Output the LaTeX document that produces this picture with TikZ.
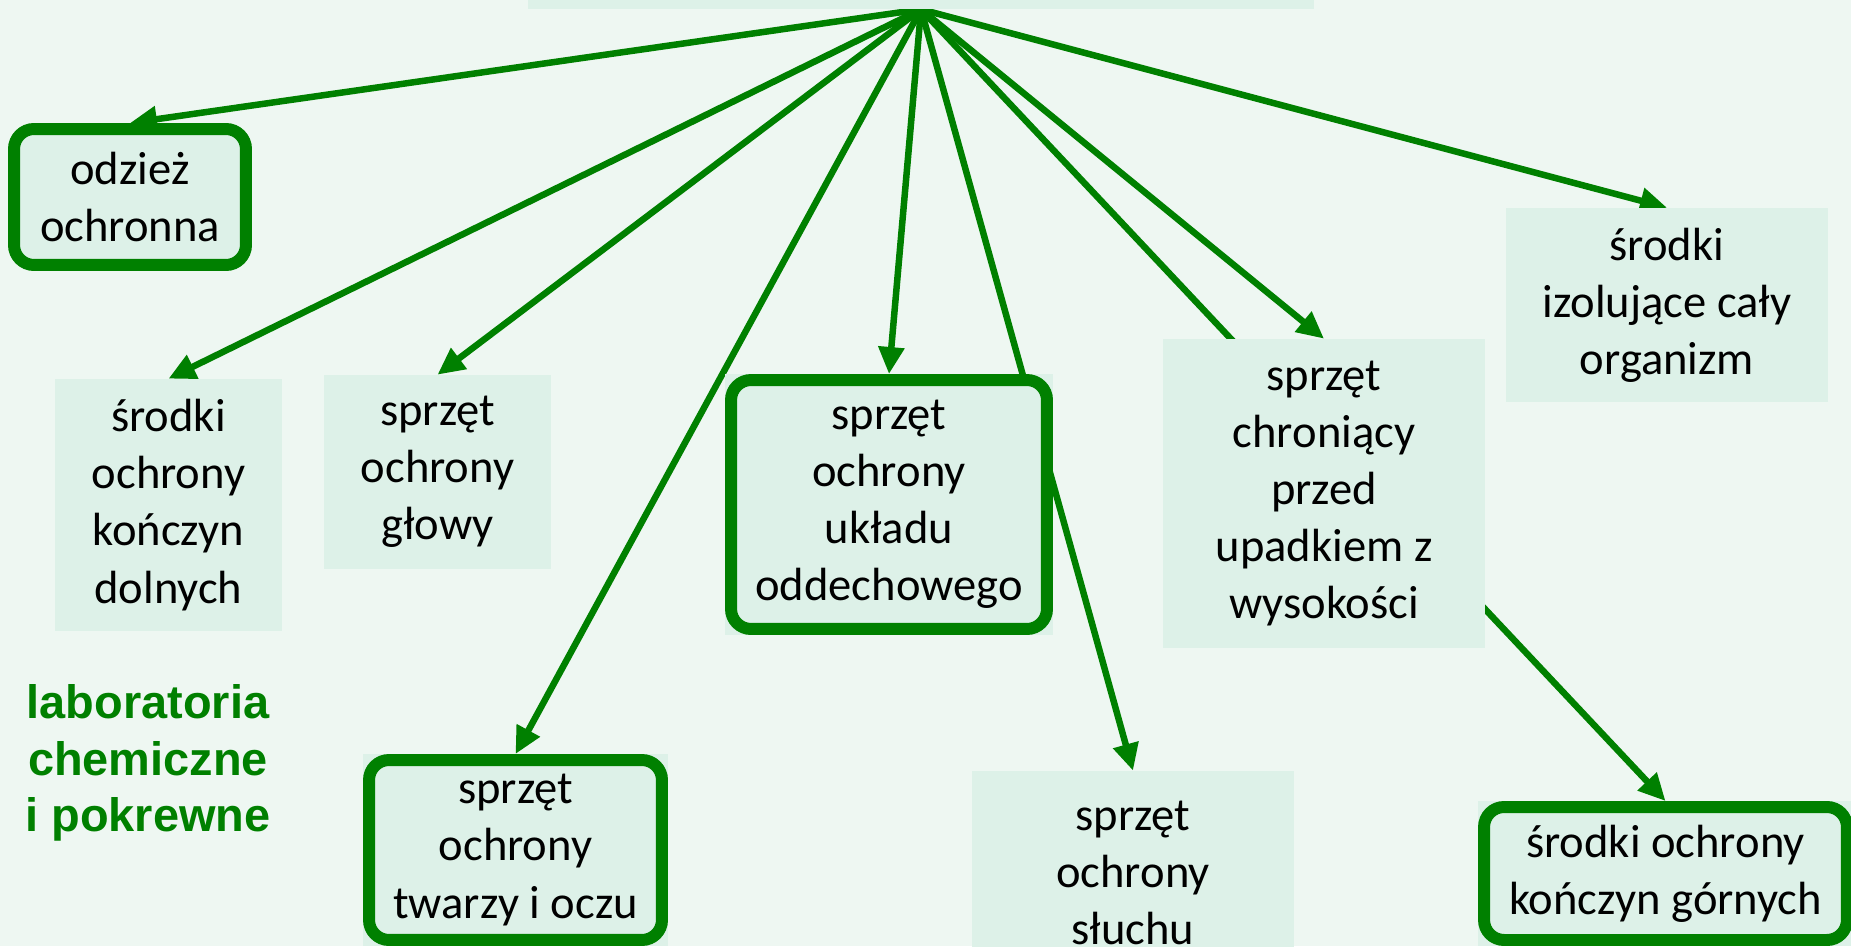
\documentclass[tikz,border=0pt]{standalone}
\usepackage{fontspec}
\setmainfont{Carlito}
\newfontfamily\labfont{Liberation Sans}
\usetikzlibrary{arrows.meta,calc}
\definecolor{bgcol}{RGB}{238,247,242}
\definecolor{boxcol}{RGB}{221,241,232}
\definecolor{grn}{RGB}{0,128,0}
\pgfdeclarelayer{bg}
\pgfdeclarelayer{arrows}
\pgfdeclarelayer{rects}
\pgfsetlayers{bg,arrows,rects,main}
\tikzset{
  plainbox/.style={fill=boxcol, inner sep=0pt, align=center,
    font=\fontsize{26.5}{32.5}\selectfont},
  borderbox/.style={plainbox, draw=grn, line width=0.24cm, rounded corners=0.4cm},
  conn/.style={draw=grn, line width=0.13cm, -{Triangle[length=0.54cm,width=0.5cm]}},
  labtext/.style={text=grn, align=center, inner sep=0pt,
    font=\labfont\bfseries\fontsize{26.7}{32.3}\selectfont},
}
\begin{document}
\begin{tikzpicture}[x=0.02cm,y=-0.02cm]
\useasboundingbox (0,0) rectangle (1851,946);
\begin{pgfonlayer}{bg}
  \fill[bgcol] (0,0) rectangle (1851,946);
\end{pgfonlayer}

\node[plainbox, minimum width=15.72cm, minimum height=1.18cm] (root) at (921,-20.5) {};

\node[borderbox, minimum width=4.64cm, minimum height=2.72cm] (odziez) at (130,197) {odzież\\ochronna};
\node[plainbox, minimum width=4.54cm, minimum height=5.04cm] (dolnych) at (168.5,505) {środki\\ochrony\\kończyn\\dolnych};
\node[plainbox, minimum width=4.54cm, minimum height=3.88cm] (glowy) at (437.5,472) {sprzęt\\ochrony\\głowy};
\node[borderbox, minimum width=5.86cm, minimum height=3.6cm] (twarzy) at (515.5,850) {sprzęt\\ochrony\\twarzy i oczu};
\node[borderbox, minimum width=6.32cm, minimum height=4.98cm] (oddech) at (889,504.5) {sprzęt\\ochrony\\układu\\oddechowego};
\node[plainbox, minimum width=6.44cm, minimum height=4.08cm] (sluchu) at (1133,873) {sprzęt\\ochrony\\słuchu};
\node[plainbox, minimum width=6.44cm, minimum height=6.18cm] (upadek) at (1324,493.5) {sprzęt\\chroniący\\przed\\upadkiem z\\wysokości};
\node[plainbox, minimum width=6.44cm, minimum height=3.88cm] (izol) at (1667,305) {środki\\izolujące cały\\organizm};
\node[borderbox, minimum width=7.26cm, minimum height=2.66cm] (gornych) at (1665.5,873.5) {środki ochrony\\kończyn górnych};

\node[labtext] (lab) at (148,763) {laboratoria\\chemiczne\\i pokrewne};

\begin{pgfonlayer}{rects}
  \foreach \n in {twarzy,oddech,gornych}
    \fill[boxcol] (\n.north west) rectangle (\n.south east);
\end{pgfonlayer}

\begin{pgfonlayer}{arrows}
  \foreach \n in {odziez,dolnych,glowy,twarzy,oddech,sluchu,upadek,izol,gornych}
    \draw[conn] (root.south) -- (\n.north);
\end{pgfonlayer}
\end{tikzpicture}
\end{document}
